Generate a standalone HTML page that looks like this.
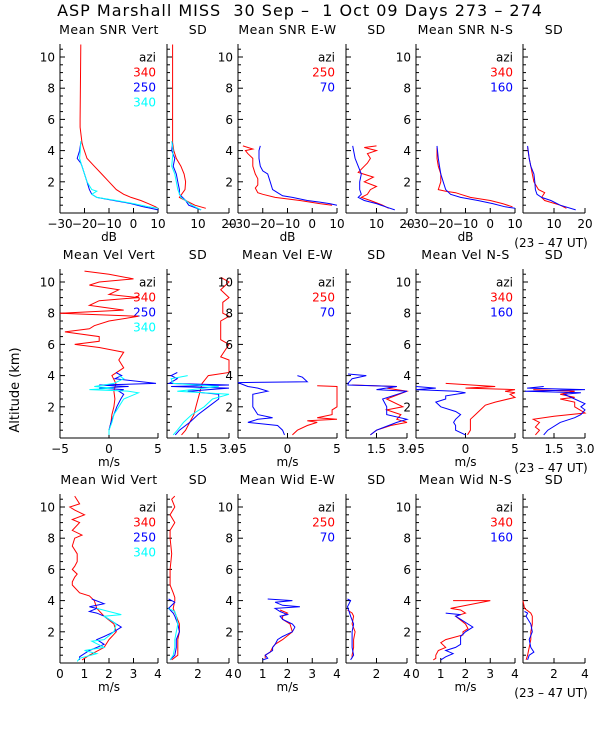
<!DOCTYPE html>
<html><head><meta charset="utf-8"><style>
html,body{margin:0;padding:0;background:#fff;}
svg text{font-family:"DejaVu Sans","Liberation Sans",sans-serif;white-space:pre;}
</style></head><body>
<svg id="chart" xmlns="http://www.w3.org/2000/svg" width="600" height="750" viewBox="0 0 600 750">
<rect x="0" y="0" width="600" height="750" fill="#fff"/>
<text x="300" y="16" font-size="16" letter-spacing="1" text-anchor="middle" xml:space="preserve">ASP Marshall MISS  30 Sep –  1 Oct 09 Days 273 – 274</text>
<text transform="translate(19,390) rotate(-90)" font-size="13" text-anchor="middle">Altitude (km)</text>
</svg>
<script>
// ---- data (altitude km / value) ----
const r1p1_red_alt=[10.8,6,5.5,4.5,4.2,3.5,3,2.5,2,1.5,1.2,1,0.8,0.6,0.4,0.3];
const r1p1_red_val=[-21.5,-21.8,-21.8,-21,-20.5,-19,-16,-13,-10,-7,-4,-1,3,6,9,10];
const r1p1_blue_alt=[4.5,4,3.5,3.2,3,2.5,2,1.5,1.2,1,0.8,0.6,0.4,0.3,0.2];
const r1p1_blue_val=[-21.5,-22,-23,-21.5,-21,-20,-19,-18,-17,-15,-8,-1,4,7,10];
const r1p1_cyan_alt=[4.6,4,3.5,3,2.5,2,1.5,1.4,1.2,1,0.8,0.6,0.4,0.3];
const r1p1_cyan_val=[-21.5,-21.7,-22,-21,-20,-19,-17,-15,-17,-15,-7,0,6,10];
const r1p2_red_alt=[10.8,4.5,4,3.5,3,2.5,2,1.5,1,0.8,0.5,0.3];
const r1p2_red_val=[1.8,1.8,2.2,3,4.5,5.5,6,5.8,4,6,9,12.5];
const r1p2_blue_alt=[4.5,4,3.5,3,2.5,2,1.5,1.2,1,0.8,0.5,0.2];
const r1p2_blue_val=[1.8,1.5,2.5,2,3,3.5,4,4,5,6,7,11];
const r1p2_cyan_alt=[4.6,4,3,2.5,2,1.5,1,0.8,0.5,0.2];
const r1p2_cyan_val=[1.5,2,1.5,2.5,3,3.5,4.5,6,8,11];
const r1p3_red_alt=[4.3,4.1,4,3.8,3.5,3,2.5,2.2,1.8,1.6,1.3,1.2,1,0.8,0.6,0.5];
const r1p3_red_val=[-28,-24,-27,-26,-24,-24,-23,-22,-22,-23,-22,-20,-15,-5,3,8];
const r1p3_blue_alt=[4.3,4,3.5,3,2.7,2.5,2,1.5,1.3,1.1,1,0.8,0.7,0.6,0.5];
const r1p3_blue_val=[-21,-21.5,-21.5,-21,-20,-18,-17,-16,-14,-12,-8,-2,3,7,10];
const r1p4_red_alt=[4.3,4.2,4,3.8,3.5,3.2,3,2.6,2.3,2,1.7,1.5,1.2,1,0.8,0.5,0.3];
const r1p4_red_val=[10,6,10,7,8,7,6,4,9,6,10,8,7,5,8,12,14];
const r1p4_blue_alt=[4.3,4,3.5,3,2.5,2,1.5,1.2,1,0.8,0.6,0.4,0.2];
const r1p4_blue_val=[2.2,2.5,3,4,5,4.5,4.5,5,4,6,10,13,16];
const r1p5_red_alt=[4.2,3.5,3,2.5,2,1.5,1.4,1.3,1.2,1,0.8,0.6,0.4];
const r1p5_red_val=[-21.5,-21.5,-21,-20,-20,-21,-18,-14,-12,-8,0,5,9];
const r1p5_blue_alt=[4.3,3.5,3,2.5,2,1.5,1.2,1,0.8,0.6,0.4,0.3];
const r1p5_blue_val=[-21.5,-21,-20.5,-20,-19,-18,-16,-12,-5,1,6,10];
const r1p6_red_alt=[4.2,3.5,3,2.5,2,1.5,1.3,1,0.8,0.5,0.3];
const r1p6_red_val=[1.5,2,2.5,3,3.5,5,7,6,7,12,14];
const r1p6_blue_alt=[4.3,3.5,3,2.5,2,1.5,1.2,1,0.8,0.5,0.2];
const r1p6_blue_val=[1.5,2,2.5,3.5,3.8,4,4.5,6,9,12,17];

const r2p1_red_alt=[10.7,10.5,10.2,10,9.8,9.5,9.2,9,8.8,8.5,8.2,8,7.8,7.5,7.2,7,6.8,6.5,6.2,6,5.8,5.5,5,4.5,4,3.5,3,2.5,2,1.5,1,0.5,0.2];
const r2p1_red_val=[-2.5,0,2.5,-1,-2,1,0,3,-1,-2,1.5,-5,3,0,-1.5,-2,-4.5,-1,-1,-3.5,-1,1.5,1,1.5,0.3,0.7,0.5,0.6,0.5,0.3,0.2,0,0];
const r2p1_blue_alt=[4.2,4,3.8,3.5,3.4,3.3,3.2,3.1,3,2.8,2.5,2,1.5,1,0.5,0.2];
const r2p1_blue_val=[0.7,1.3,0.6,4.8,-1,2,-1,1.5,1,1.5,1.2,0.8,0.5,0.2,0,0];
const r2p1_cyan_alt=[4,3.8,3.5,3.3,3.2,3.1,3,2.9,2.5,2,1.5,1,0.5,0.2];
const r2p1_cyan_val=[1,1.5,0.5,-1.5,0.5,-2,2,3,1.5,1,0.5,0.3,0,0];
const r2p2_red_alt=[10.3,10,9.5,9,8.7,8,7.8,7.5,6.3,6,5.2,5,4.2,4,3.5,3,2.5,2,1.5,1,0.5,0.2];
const r2p2_red_val=[2.6,3,2.6,3,2.7,2.7,3,2.6,2.6,3,2.6,3,3,2,1.7,1.6,1.5,1.4,1.3,1.1,0.9,0.7];
const r2p2_blue_alt=[4.2,4,3.8,3.5,3.4,3.3,3.2,3,2.8,2.5,2,1.5,1,0.5,0.2];
const r2p2_blue_val=[0.5,0.2,0.5,0.1,3,0.2,3,1,2.5,2.5,2,1.5,1.1,0.6,0.4];
const r2p2_cyan_alt=[4,3.8,3.5,3.3,3,2.8,2.5,2,1.5,1,0.5,0.2];
const r2p2_cyan_val=[1,0.2,0.3,2.5,0.5,3,2.2,1.8,1.2,0.8,0.5,0.3];
const r2p3_blue_alt=[4,3.9,3.6,3.55,3.3,3.2,3,2.8,2.5,2,1.5,1.3,1.2,1,0.8,0.5,0.2];
const r2p3_blue_val=[1,1.5,2,-5,-4,-3,-2,-3.5,-3.5,-3.5,-3,-1.5,-3,-4,-1,-0.5,-0.3];
const r2p3_red_alt=[3.35,3.3,2,1.8,1.5,1.3,1.2,1.1,1,0.8,0.5,0.2];
const r2p3_red_val=[3,5,5,4.5,4.5,3,5,2,3,2,1,0.5];
const r2p4_blue_alt=[4.1,4,3.8,3.5,3.4,3.3,3.1,3,2.5,2,1.5,1.2,1,0.5,0.2];
const r2p4_blue_val=[0.1,1,0.3,0.1,0.1,2.5,1.5,3,1.8,2,2,3,2.5,1.5,1.2];
const r2p4_red_alt=[3.4,3.3,3.2,3,2.5,2,1.8,1.5,1.2,1,0.8,0.5,0.2];
const r2p4_red_val=[0.3,2.5,2,3,2,2.8,2,2.7,2.5,3,2.2,1.5,1.2];
const r2p5_red_alt=[3.5,3.3,3.2,3.1,3,2.9,2.8,2.6,2.3,2.1,1.8,1.5,1.2,1,0.5,0.2];
const r2p5_red_val=[-2,3,0,5,4,5,4.5,5,3,2,1.5,1,0.5,0.5,0.5,0.2];
const r2p5_blue_alt=[3.3,3.2,3.1,3,2.9,2.7,2.5,2.3,2,1.7,1.5,1.2,1,0.8,0.5,0.2];
const r2p5_blue_val=[-5,-3,-5,-1,0,-2,-2,-3,-2.5,-1,-0.5,-1,-1.2,-1,-1,0];
const r2p6_blue_alt=[3.3,3.2,3.1,3,2.9,2.8,2.5,2.2,2,1.8,1.5,1.3,1,0.5,0.2];
const r2p6_blue_val=[1,0.2,3,0.1,2.8,2,2.5,3,2.8,3,2.8,2.5,1.8,1.2,1];
const r2p6_red_alt=[3.1,3,2.8,2.6,2.5,2.3,2,1.6,1.4,1.2,1,0.7,0.5,0.2];
const r2p6_red_val=[0.5,2.5,1.8,2.5,1.8,2.5,2.5,3,1.5,0.5,0.8,0.6,0.8,0.6];

const r3p1_red_alt=[10.7,10.2,10,9.8,9.5,9.2,9,8.5,8.2,8,7.5,7,6.5,6.2,6,5.7,5.5,5.2,5,4.5,4.3,4,3.5,3,2.5,2,1.5,1,0.5,0.2];
const r3p1_red_val=[0.6,0.8,0.4,0.6,1,0.5,0.8,0.5,0.9,0.6,0.5,0.7,0.7,0.6,0.5,0.7,0.6,0.5,0.5,0.8,1.2,1.4,1.5,1.8,2.2,2.3,2,1.8,1.2,0.9];
const r3p1_blue_alt=[4.1,3.8,3.6,3.5,3.3,3.2,3,2.8,2.5,2.3,2,1.7,1.5,1.2,1,0.8,0.6,0.4,0.2];
const r3p1_blue_val=[1.3,1.8,1.2,1.5,1.2,1.5,1.8,2,2.3,2.5,2.2,1.8,1.5,1.8,1.5,1.2,1,0.8,0.8];
const r3p1_cyan_alt=[3.5,3.3,3.1,3,2.8,2.5,2,1.5,1.4,1,0.8,0.6,0.3,0.1];
const r3p1_cyan_val=[1.5,2,2.5,1.8,2,2.3,2.2,1.8,1.3,1.8,1,1.5,0.8,0.7];
const r3p2_red_alt=[10.7,10.5,10,9.5,9,8.5,8,7,6,5,4.5,4.2,4,3.5,3,2.5,2,1.5,1,0.5,0.2];
const r3p2_red_val=[0.5,0.3,0.5,0.2,0.5,0.2,0.2,0.3,0.2,0.2,0.4,0.5,0.5,0.4,0.6,0.8,0.8,0.7,0.7,0.7,0.3];
const r3p2_blue_alt=[4.1,3.9,3.5,3.2,3,2.5,2,1.5,1,0.5,0.2];
const r3p2_blue_val=[0.1,0.5,0.1,0.4,0.5,0.7,0.8,0.6,0.6,0.5,0.2];
const r3p2_cyan_alt=[3.5,3.3,3,2.5,2,1.5,1,0.5,0.2];
const r3p2_cyan_val=[0.1,0.5,0.6,0.7,0.6,0.5,0.5,0.4,0.2];
const r3p3_blue_alt=[4.1,4,3.9,3.7,3.6,3.5,3.3,3.1,3,2.8,2.5,2.3,2,1.7,1.5,1.2,1,0.8,0.5,0.3,0.2];
const r3p3_blue_val=[1.2,2.2,1.5,1.8,2.5,1.5,1.7,2,1.7,1.8,2.2,2.3,2.2,1.8,1.6,1.5,1.4,1.4,1.1,1.2,1];
const r3p3_red_alt=[3.4,3.2,3,2.8,2.5,2,1.5,1.2,1,0.7,0.5,0.3];
const r3p3_red_val=[1.7,2,1.8,1.8,2.1,2.2,1.8,1.5,1.4,1.3,1.1,1.1];
const r3p4_blue_alt=[4.1,4,3.6,3.3,3,2.5,2,1.5,1,0.5,0.2];
const r3p4_blue_val=[0.1,0.3,0.1,0.2,0.3,0.5,0.4,0.4,0.4,0.5,0.3];
const r3p4_red_alt=[3.4,3.2,3,2.5,2,1.5,1,0.5,0.3];
const r3p4_red_val=[0.1,0.4,0.5,0.4,0.6,0.5,0.5,0.4,0.4];
const r3p5_red_alt=[4,4,3.5,3.4,3.2,3,2.5,2.2,2,1.8,1.5,1.3,1,0.8,0.5,0.3,0.2];
const r3p5_red_val=[1.5,3,1.4,1.8,2,1.6,2,2.1,1.9,1.9,1.2,1,1.2,0.9,0.8,0.8,0.7];
const r3p5_blue_alt=[3.2,3.1,3,2.8,2.5,2.3,2,1.7,1.5,1.2,1,0.8,0.6,0.4,0.2];
const r3p5_blue_val=[1.2,1.8,1.6,1.8,2.1,2.3,2,1.8,1.8,1.8,1.6,1.2,1.5,1.2,1];
const r3p6_red_alt=[4,3.5,3.2,3,2.5,2,1.5,1,0.5,0.2];
const r3p6_red_val=[0,0.1,0.5,0.6,0.6,0.5,0.5,0.4,0.3,0.2];
const r3p6_blue_alt=[3.3,3.2,3,2.5,2,1.5,1,0.7,0.5,0.2];
const r3p6_blue_val=[0.1,0.3,0.2,0.5,0.6,0.4,0.5,0.7,0.4,0.3];

const rowTitles=[["Mean SNR Vert","SD","Mean SNR E-W","SD","Mean SNR N-S","SD"],
 ["Mean Vel Vert","SD","Mean Vel E-W","SD","Mean Vel N-S","SD"],
 ["Mean Wid Vert","SD","Mean Wid E-W","SD","Mean Wid N-S","SD"]];
const rowUnits=["dB","m/s","m/s"];
const legendLabels=[["340","250","340"],["250","70"],["340","160"]];
const yTicks=[2,4,6,8,10];

// ---- layout ----
const svg=document.getElementById('chart');
const NS='http://www.w3.org/2000/svg';
const panelX=[[60,158],[167,229],[238,337],[346,407],[416,515],[523,585]];
const rowBase=[213,438,663];
const pxPerKm=15.6, plotH=169;
const COL={red:'#ff0000',blue:'#0000ff',cyan:'#00ffff'};
const meanRange=[[-30,10],[-5,5],[0,4]];
const sdRange=[[0,20],[0,3],[0,4]];
const meanTicks=[[-30,-20,-10,0,10],[-5,0,5],[0,1,2,3,4]];
const meanTickLbl=[["−30","−20","−10","0","10"],["−5","0","5"],["0","1","2","3","4"]];
const sdTicks=[[0,10,20],[0,1.5,3],[0,2,4]];
const sdTickLbl=[["","10","20"],["","1.5","3.0"],["","2","4"]];

function el(tag,attrs,parent){const e=document.createElementNS(NS,tag);for(const k in attrs)e.setAttribute(k,attrs[k]);(parent||svg).appendChild(e);return e;}
function yScale(r,a){return rowBase[r]-a*pxPerKm;}
function xScale(p,rng,v){const [x0,x1]=panelX[p];return x0+(v-rng[0])/(rng[1]-rng[0])*(x1-x0);}

for(let r=0;r<3;r++){
 for(let p=0;p<6;p++){
  const isMean=p%2===0;
  const rng=isMean?meanRange[r]:sdRange[r];
  const ticks=isMean?meanTicks[r]:sdTicks[r];
  const tl=isMean?meanTickLbl[r]:sdTickLbl[r];
  const [x0,x1]=panelX[p];
  const g=el('g',{});
  
  
  const t=el('text',{x:(x0+x1)/2,y:rowBase[r]-plotH-10,'font-size':12.5,'letter-spacing':0.5,'text-anchor':'middle'},g);
  t.textContent=rowTitles[r][p];
  
  
  const top=rowBase[r]-plotH;
  el('line',{x1:x0,y1:top,x2:x0,y2:rowBase[r],stroke:'#000','stroke-width':1},g);
  el('line',{x1:x0,y1:rowBase[r],x2:x1,y2:rowBase[r],stroke:'#000','stroke-width':1},g);
  for(let k=0.5;k<=10.5;k+=0.5){const yy=yScale(r,k);const major=Math.abs(k-Math.round(k))<1e-6&&Math.round(k)%2===0;
   el('line',{x1:x0,y1:yy,x2:x0+(major?5:3),y2:yy,stroke:'#000','stroke-width':1},g);}
  if(isMean){yTicks.forEach(v=>{const tx=el('text',{x:x0-5,y:yScale(r,v)+4.5,'font-size':12,'text-anchor':'end'},g);tx.textContent=String(v);
    
    });}
  ticks.forEach((v,i)=>{const xx=xScale(p,rng,v);
   el('line',{x1:xx,y1:rowBase[r],x2:xx,y2:rowBase[r]-5,stroke:'#000','stroke-width':1},g);
   if(tl[i]){const tx=el('text',{x:xx,y:rowBase[r]+15,'font-size':12,'text-anchor':'middle'},g);tx.textContent=tl[i];
    
    }});
  if(isMean){const u=el('text',{x:(x0+x1)/2,y:rowBase[r]+28,'font-size':12,'text-anchor':'middle'},g);u.textContent=rowUnits[r];
   
   
   const lg=legendLabels[p/2];const cols=p===0?['red','blue','cyan']:['red','blue'];
   const a=el('text',{x:x1-2,y:yScale(r,10)+4.5,'font-size':12,'text-anchor':'end'},g);a.textContent='azi';
   
   
   lg.forEach((s,i)=>{const lt=el('text',{x:x1-2,y:yScale(r,10)+4.5+15*(i+1),'font-size':12,'text-anchor':'end',fill:COL[cols[i]]},g);lt.textContent=s;
    
    });}
  else if(p===5){const u=el('text',{x:(x0+x1)/2-3,y:rowBase[r]+34,'font-size':12,'text-anchor':'middle'},g);u.textContent='(23 – 47 UT)';
   
   }
  ['red','blue','cyan'].forEach(c=>{const base='r'+(r+1)+'p'+(p+1)+'_'+c;let alt,val;
   try{alt=eval(base+'_alt');val=eval(base+'_val');}catch(e){return;}
   const pts=alt.map((a,i)=>xScale(p,rng,val[i]).toFixed(1)+','+yScale(r,a).toFixed(1)).join(' ');
   const pl=el('polyline',{points:pts,fill:'none',stroke:COL[c],'stroke-width':1},g);
   
   });
 }
}
</script>
</body></html>
